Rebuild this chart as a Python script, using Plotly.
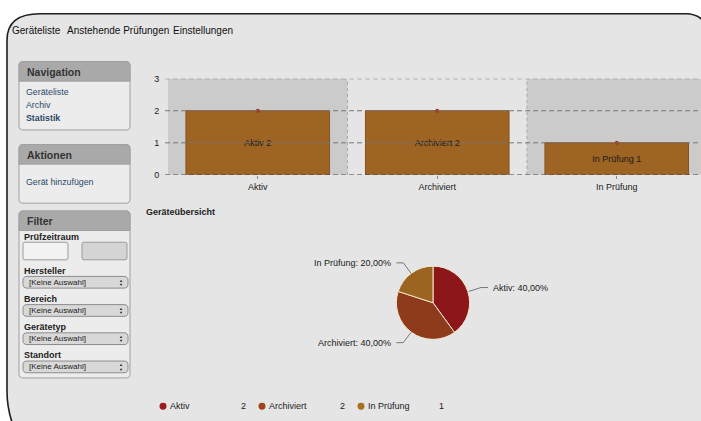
import math
import plotly.graph_objects as go

W, H = 701, 421

# ---------------- data ----------------
categories = ["Aktiv", "Archiviert", "In Prüfung"]
counts = [2, 2, 1]
y_ticks = [0, 1, 2, 3]
menu_items = ["Geräteliste", "Anstehende Prüfungen", "Einstellungen"]
nav_links = ["Geräteliste", "Archiv", "Statistik"]
action_links = ["Gerät hinzufügen"]
filter_fields = ["Hersteller", "Bereich", "Gerätetyp", "Standort"]
select_text = "[Keine Auswahl]"
pie_title = "Geräteübersicht"

# ---------------- styles ----------------
UI = "Liberation Sans, Arial, sans-serif"
BAR_COLOR = "#9d6423"
BAR_EDGE = "#8a5020"
DOT_COLOR = "#a5301f"
PIE_COLORS = ["#8c1619", "#8e3b1c", "#9b6420"]
LEG_COLORS = ["#9e1a1c", "#a0421c", "#a8701f"]
BG = "#e5e5e5"
BAND = "#cbcbcb"
LINK = "#2b4a68"


def P(x, y):
    return f"{x / W:.5f},{1 - y / H:.5f}"


shapes = []
ann = []


def txt(x, y, s, size=9, color="#222", bold=False, anchor="left", family=UI):
    ann.append(dict(x=x / W, y=1 - y / H, xref="paper", yref="paper",
                    text=f"<b>{s}</b>" if bold else s, showarrow=False,
                    xanchor=anchor, yanchor="middle", borderpad=0,
                    font=dict(size=size, color=color, family=family)))


def path(d, fill=None, line="#000", width=1, layer="below", dash=None):
    sh = dict(type="path", xref="paper", yref="paper", path=d, layer=layer,
              line=dict(color=line, width=width))
    if dash:
        sh["line"]["dash"] = dash
    if fill:
        sh["fillcolor"] = fill
    shapes.append(sh)


def rrect(x0, y0, x1, y1, r, fill, line, width=1, top_only=False, layer="below"):
    if top_only:
        d = (f"M {P(x0, y1)} L {P(x0, y0 + r)} Q {P(x0, y0)} {P(x0 + r, y0)} "
             f"L {P(x1 - r, y0)} Q {P(x1, y0)} {P(x1, y0 + r)} L {P(x1, y1)} Z")
    else:
        d = (f"M {P(x0 + r, y0)} L {P(x1 - r, y0)} Q {P(x1, y0)} {P(x1, y0 + r)} "
             f"L {P(x1, y1 - r)} Q {P(x1, y1)} {P(x1 - r, y1)} L {P(x0 + r, y1)} "
             f"Q {P(x0, y1)} {P(x0, y1 - r)} L {P(x0, y0 + r)} Q {P(x0, y0)} {P(x0 + r, y0)} Z")
    path(d, fill=fill, line=line, width=width, layer=layer)


# ---------------- page frame ----------------
path(f"M {P(13, 430)} Q {P(7, 414)} {P(7, 395)} L {P(7, 36)} Q {P(7, 9)} {P(40, 9)} "
     f"L {P(686, 9)} Q {P(700, 9)} {P(708, 22)} L {P(712, 430)} Z",
     fill=BG, line="#1e1e1e", width=1.6)

# top menu
menu_x = [11, 66, 172]
for item, mx in zip(menu_items, menu_x):
    txt(mx, 26.5, item, size=10, color="#111")

# ---------------- sidebar boxes ----------------
def box(y0, y1, title):
    rrect(19, y0, 130, y1, 4, "#ececec", "#a0a0a0", 1)
    rrect(19, y0, 130, y0 + 20, 4, "#a9a9a9", "#a0a0a0", 1, top_only=True)
    txt(26, y0 + 10.5, title, size=10.5, color="#333", bold=True)


box(58, 128, "Navigation")
for i, l in enumerate(nav_links):
    txt(25, 89 + i * 13.3, l, size=8.8, color=LINK, bold=(l == "Statistik"))

box(143, 203, "Aktionen")
for l in action_links:
    txt(25, 181.5, l, size=8.8, color=LINK)

box(211, 382, "Filter")
txt(23, 238, "Prüfzeitraum", size=9, color="#222", bold=True)
rrect(23, 243, 68, 261, 2, "#f2f2f2", "#9a9a9a", 1)
rrect(82, 243, 127, 261, 2, "#d4d4d4", "#9a9a9a", 1)
for i, f in enumerate(filter_fields):
    yl = 272 + i * 28.9
    txt(23, yl, f, size=9, color="#222", bold=True)
    ys = yl + 6
    rrect(23, ys, 128, ys + 12, 4, "#d8d8d8", "#8c8c8c", 1)
    txt(28, ys + 6, select_text, size=8, color="#222")
    txt(121, ys + 4, "▲", size=4, color="#222", anchor="center")
    txt(121, ys + 8.3, "▼", size=4, color="#222", anchor="center")

# ---------------- bar chart ----------------
x_left = 168
px_per_cat = 179.5
x_max = -0.5 + (W - x_left) / px_per_cat

for i in range(len(categories)):
    if i % 2 == 0:
        shapes.append(dict(type="rect", xref="x", yref="y", x0=i - 0.5, x1=i + 0.5,
                           y0=0, y1=max(y_ticks), fillcolor=BAND, line=dict(width=0),
                           layer="below"))
    if i > 0:
        shapes.append(dict(type="line", xref="x", yref="y", x0=i - 0.5, x1=i - 0.5,
                           y0=0, y1=max(y_ticks), layer="above",
                           line=dict(color="#a8a8a8", width=1, dash="3px,3px")))
for t in y_ticks:
    shapes.append(dict(type="line", xref="paper", yref="y", x0=(x_left - 3) / W, x1=1,
                       y0=t, y1=t, layer="above",
                       line=dict(color="#333" if t == 0 else "#777", width=1,
                                 dash="5px,3px")))

fig = go.Figure()
fig.add_trace(go.Bar(
    x=categories, y=counts, width=0.8,
    marker=dict(color=BAR_COLOR, line=dict(color=BAR_EDGE, width=1)),
    text=[f"{c} {v}" for c, v in zip(categories, counts)],
    textposition="inside", insidetextanchor="middle",
    textfont=dict(size=9, color="#1a1a1a", family=UI),
    hoverinfo="skip", showlegend=False, xaxis="x", yaxis="y"))
fig.add_trace(go.Scatter(
    x=categories, y=counts, mode="markers",
    marker=dict(size=4, color=DOT_COLOR), hoverinfo="skip", showlegend=False))

# ---------------- pie ----------------
pcx, pcy, pr = 433, 305, 37.5
fig.add_trace(go.Pie(
    labels=categories, values=counts, sort=False, direction="clockwise", rotation=0,
    marker=dict(colors=PIE_COLORS, line=dict(color="#f3e6cc", width=1)),
    textinfo="none", hoverinfo="skip", showlegend=False,
    domain=dict(x=[(pcx - pr) / W, (pcx + pr) / W], y=[1 - (pcy + pr) / H, 1 - (pcy - pr) / H])))

total = sum(counts)
cum = 0
for c, v in zip(categories, counts):
    mid = (cum + v / 2) / total * 2 * math.pi
    cum += v
    dx, dy = math.sin(mid), -math.cos(mid)
    x0, y0 = pcx + pr * dx, pcy + pr * dy
    x1, y1 = pcx + (pr + 13) * dx, pcy + (pr + 13) * dy
    side = 1 if dx >= 0 else -1
    x2 = x1 + 7 * side
    path(f"M {P(x0, y0)} L {P(x1, y1)} L {P(x2, y1)}", line="#777", width=1, layer="above")
    pct = f"{v / total * 100:.2f}".replace(".", ",")
    txt(x2 + 4 * side, y1 + 0.5, f"{c}: {pct}%", size=9, color="#1a1a1a",
        anchor="left" if side > 0 else "right")

txt(145, 212, pie_title, size=9, color="#222", bold=True)

# legend
for i, (c, v) in enumerate(zip(categories, counts)):
    lx = 163 + i * 99
    shapes.append(dict(type="circle", xref="paper", yref="paper",
                       x0=(lx - 3.5) / W, x1=(lx + 3.5) / W,
                       y0=1 - (411 + 3.5) / H, y1=1 - (411 - 3.5) / H,
                       fillcolor=LEG_COLORS[i], line=dict(width=0)))
    txt(lx + 6, 411, c, size=9, color="#1a1a1a")
    txt(lx + 84, 411, str(v), size=9, color="#1a1a1a", anchor="right")

fig.update_layout(
    width=W, height=H, margin=dict(l=0, r=0, t=0, b=0),
    paper_bgcolor="white", plot_bgcolor="rgba(0,0,0,0)",
    shapes=shapes, annotations=ann, bargap=0.2,
    xaxis=dict(domain=[x_left / W, 1], range=[-0.5, x_max], type="category",
               showgrid=False, zeroline=False, showline=False,
               ticks="outside", ticklen=3, tickcolor="#888",
               tickfont=dict(size=9, color="#1a1a1a", family=UI)),
    yaxis=dict(domain=[1 - 174 / H, 1 - 75.5 / H], range=[0, 3], tickvals=y_ticks,
               showgrid=False, zeroline=False, showline=False,
               ticks="outside", ticklen=6, tickcolor="rgba(0,0,0,0)",
               tickfont=dict(size=9, color="#1a1a1a", family=UI)),
)

fig.write_html(
    "out.html", config=dict(displayModeBar=False, responsive=False),
    post_script=("document.body.style.margin='0';document.body.style.overflow='hidden';"))
